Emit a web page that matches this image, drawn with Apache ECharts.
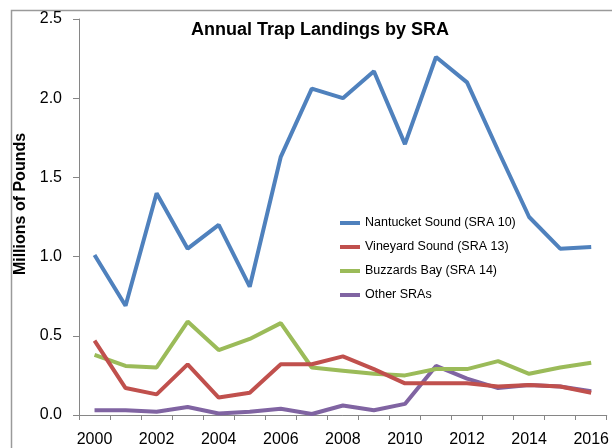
<!DOCTYPE html>
<html>
<head>
<meta charset="utf-8">
<script src="https://cdn.jsdelivr.net/npm/echarts@6/dist/echarts.min.js"></script>
<style>
html,body{margin:0;padding:0;background:#fff;}
#chart{width:612px;height:448px;}
</style>
</head>
<body>
<div id="chart"></div>
<script>
// years on the x axis
var years = ['2000','2001','2002','2003','2004','2005','2006','2007','2008','2009','2010','2011','2012','2013','2014','2015','2016'];
// landings, millions of pounds
var nantucket = [1.01,0.69,1.40,1.05,1.20,0.81,1.63,2.06,2.00,2.17,1.71,2.26,2.10,1.67,1.25,1.05,1.06];
var vineyard  = [0.47,0.17,0.13,0.32,0.11,0.14,0.32,0.32,0.37,0.29,0.20,0.20,0.20,0.18,0.19,0.18,0.14];
var buzzards  = [0.38,0.31,0.30,0.59,0.41,0.48,0.58,0.30,0.28,0.26,0.25,0.29,0.29,0.34,0.26,0.30,0.33];
var others    = [0.03,0.03,0.02,0.05,0.01,0.02,0.04,0.006,0.06,0.03,0.07,0.31,0.23,0.17,0.19,0.18,0.15];
var seriesNames = ['Nantucket Sound (SRA 10)','Vineyard Sound (SRA 13)','Buzzards Bay (SRA 14)','Other SRAs'];
var seriesColors = ['#4F81BD','#C0504D','#9BBB59','#8064A2'];

var font = 'Liberation Sans';
var myChart = echarts.init(document.getElementById('chart'));

var series = [];
[nantucket, vineyard, buzzards, others].forEach(function (vals, i) {
    series.push({
        name: seriesNames[i],
        type: 'line',
        data: vals,
        symbol: 'none',
        color: seriesColors[i],
        lineStyle: {width: 4, color: seriesColors[i]},
        z: 10 - i
    });
});

var option = {
    animation: false,
    graphic: [{
        type: 'rect',
        left: 9, top: 8,
        shape: {width: 700, height: 600},
        style: {fill: 'none', stroke: '#9a9a9a', lineWidth: 1.5},
        silent: true
    }],
    title: {
        text: 'Annual Trap Landings by SRA',
        left: 315,
        top: 16,
        textAlign: 'center',
        textStyle: {fontFamily: font, fontSize: 18, fontWeight: 'bold', color: '#000'}
    },
    legend: {
        orient: 'vertical',
        left: 335,
        top: 210,
        icon: 'rect',
        itemWidth: 20,
        itemHeight: 4,
        itemGap: 8,
        textStyle: {fontFamily: font, fontSize: 12.5, color: '#000', lineHeight: 16},
        data: seriesNames
    },
    grid: {left: 79, right: 5, top: 19, bottom: 31, containLabel: false},
    xAxis: {
        type: 'category',
        data: years,
        boundaryGap: true,
        axisLine: {lineStyle: {color: '#868686', width: 1}},
        axisTick: {show: true, interval: 0, length: 5, lineStyle: {color: '#868686'}},
        axisLabel: {interval: 1, margin: 17, fontFamily: font, fontSize: 16, color: '#000'},
        splitLine: {show: false}
    },
    yAxis: {
        type: 'value',
        min: 0, max: 2.5, interval: 0.5,
        name: 'Millions of Pounds',
        nameLocation: 'middle',
        nameGap: 50,
        nameTextStyle: {fontFamily: font, fontSize: 16, fontWeight: 'bold', color: '#000', padding: [0, 0, 0, 26]},
        axisLine: {show: true, lineStyle: {color: '#868686', width: 1}},
        axisTick: {show: true, length: 6, lineStyle: {color: '#868686'}},
        axisLabel: {margin: 17, fontFamily: font, fontSize: 16, color: '#000',
            formatter: function (v) { return v.toFixed(1); }},
        splitLine: {show: false}
    },
    series: series
};
myChart.setOption(option);
window.addEventListener('resize', function () {
    myChart.resize();
});
</script>
</body>
</html>
